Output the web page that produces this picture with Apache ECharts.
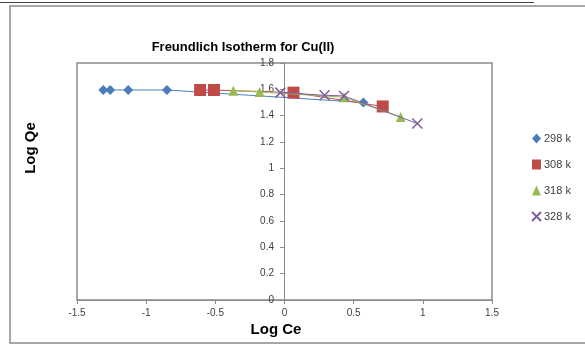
<!DOCTYPE html>
<html><head><meta charset="utf-8">
<script src="https://cdn.jsdelivr.net/npm/echarts@6/dist/echarts.min.js"></script>
<style>html,body{margin:0;padding:0;background:#fff}#c{width:585px;height:345px}</style>
</head><body><div id="c"></div>
<script>
var seriesNames = ['298 k', '308 k', '318 k', '328 k'];
var logCe298 = [-1.31, -1.26, -1.13, -0.85, 0.57];
var logQe298 = [1.595, 1.595, 1.595, 1.595, 1.50];
var logCe308 = [-0.61, -0.51, 0.065, 0.71];
var logQe308 = [1.595, 1.595, 1.575, 1.47];
var logCe318 = [-0.37, -0.18, 0.43, 0.84];
var logQe318 = [1.59, 1.58, 1.54, 1.39];
var logCe328 = [-0.03, 0.29, 0.43, 0.96];
var logQe328 = [1.575, 1.555, 1.55, 1.34];
var xTicks = [-1.5, -1, -0.5, 0, 0.5, 1, 1.5];
var yTicks = [0, 0.2, 0.4, 0.6, 0.8, 1, 1.2, 1.4, 1.6, 1.8];

function pairs(xs, ys){ return xs.map(function(x,i){ return [x, ys[i]]; }); }

var colors = ['#4A7EBB', '#BE4B48', '#98B954', '#7D60A0'];
var lineColors = ['#4F81BD', '#C0504D', '#9BBB59', '#8064A2'];
var symbols = ['diamond', 'rect', 'triangle', 'path://M0,0L10,10M10,0L0,10'];
var sizes = [10, 12, 10, 10];
var datas = [pairs(logCe298, logQe298), pairs(logCe308, logQe308), pairs(logCe318, logQe318), pairs(logCe328, logQe328)];

var series = seriesNames.map(function(n, i){
  var isX = i === 3;
  return {
    name: n, type: 'line', data: datas[i], symbol: symbols[i], symbolSize: sizes[i],
    showAllSymbol: true,
    lineStyle: {color: lineColors[i], width: 1},
    itemStyle: isX ? {color: 'rgba(0,0,0,0)', borderColor: colors[i], borderWidth: 1.5} : {color: colors[i], borderWidth: 0},
    emphasis: {disabled: true},
    z: 3 + i
  };
});

var FONT = 'Liberation Sans, Arial, sans-serif';
var chart = echarts.init(document.getElementById('c'), null, {renderer: 'canvas'});
chart.setOption({
  animation: false,
  backgroundColor: '#fff',
  textStyle: {fontFamily: FONT},
  title: {
    text: 'Freundlich Isotherm for Cu(II)', left: 238, top: 36, textAlign: 'center',
    textStyle: {fontSize: 13, fontWeight: 'bold', color: '#000', fontFamily: FONT}
  },
  legend: {
    orient: 'vertical', left: 526, top: 128, itemGap: 15, itemWidth: 9, itemHeight: 10,
    textStyle: {fontSize: 11, color: '#404040', padding: [0,0,0,-2]},
    data: seriesNames.map(function(n, i){ return {name: n, icon: symbols[i]}; })
  },
  grid: {left: 77, right: 93, top: 63, bottom: 45, show: true, borderColor: '#8a8a8a', borderWidth: 1.5, backgroundColor: 'transparent'},
  xAxis: {
    type: 'value', min: -1.5, max: 1.5, interval: 0.5,
    axisLine: {show: true, onZero: false, lineStyle: {color: '#8a8a8a', width: 1}},
    axisTick: {show: true, length: 4, lineStyle: {color: '#8a8a8a'}},
    axisLabel: {fontSize: 10, color: '#404040', margin: 8, formatter: function(v){ return String(v); }},
    splitLine: {show: false}
  },
  yAxis: {
    type: 'value', min: 0, max: 1.8, interval: 0.2, position: 'left', offset: -207,
    axisLine: {show: true, onZero: false, lineStyle: {color: '#8a8a8a', width: 1}},
    axisTick: {show: true, length: 4, lineStyle: {color: '#8a8a8a'}},
    axisLabel: {fontSize: 10, color: '#404040', margin: 10, formatter: function(v){ return String(Math.round(v*10)/10); }},
    splitLine: {show: false}
  },
  graphic: [
    {type: 'rect', shape: {x: 10, y: 6, width: 600, height: 337}, style: {fill: 'none', stroke: '#8a8a8a', lineWidth: 1.5}, silent: true},
    {type: 'line', shape: {x1: 0, y1: 2.5, x2: 534, y2: 2.5}, style: {stroke: '#444', lineWidth: 1}, silent: true},
    {type: 'text', x: 31, y: 148, rotation: Math.PI/2, style: {text: 'Log Qe', fontSize: 15, fontWeight: 'bold', fill: '#000', textAlign: 'center', textVerticalAlign: 'middle', fontFamily: FONT}, silent: true},
    {type: 'text', x: 276, y: 330, style: {text: 'Log Ce', fontSize: 15, fontWeight: 'bold', fill: '#000', textAlign: 'center', textVerticalAlign: 'middle', fontFamily: FONT}, silent: true}
  ],
  series: series
});
</script></body></html>
